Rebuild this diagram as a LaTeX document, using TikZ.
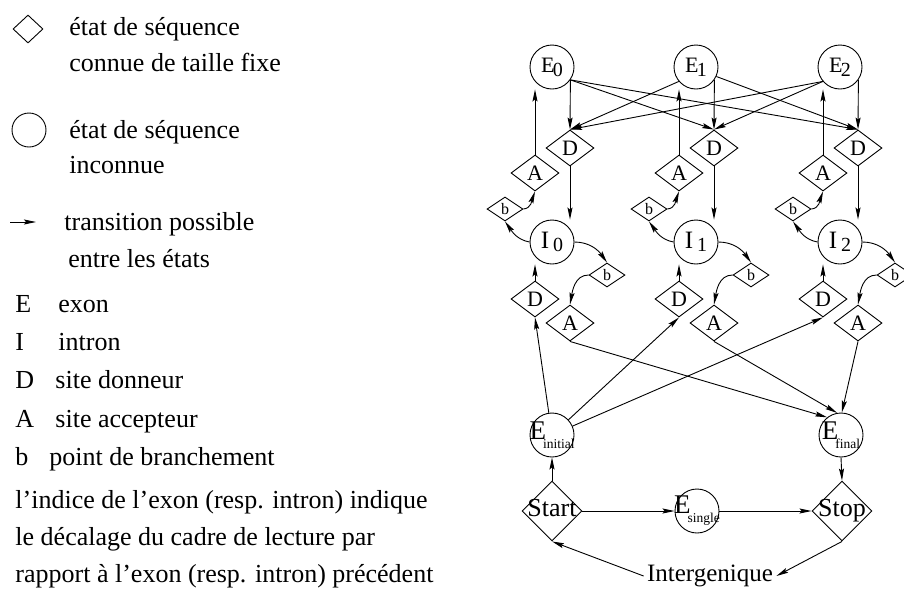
\documentclass[tikz,border=0pt]{standalone}
\usepackage{fontspec}
\setmainfont{Liberation Serif}
\usepackage{tikz}
\usetikzlibrary{arrows.meta, shapes.geometric, calc}
\newcommand{\exon}[1]{E\kern-1.5pt\raisebox{-4pt}{\fontsize{20}{20}\selectfont #1}}
\newcommand{\intron}[1]{{\fontsize{25}{25}\selectfont I}\hspace{4pt}\raisebox{-3pt}{\fontsize{20}{20}\selectfont #1}}
\newcommand{\Esub}[1]{{\fontsize{27}{27}\selectfont E}\kern-3pt\raisebox{-9pt}{\fontsize{13.5}{13.5}\selectfont #1}}

\begin{document}
\begin{tikzpicture}[>={Stealth[length=12pt,width=5pt,inset=2pt]}, x=1pt, y=-1pt, line width=0.9pt]
            \tikzstyle{etat}=[circle, draw, minimum size=44pt, inner sep=0pt, font=\fontsize{22}{22}\selectfont]
            \tikzstyle{site}=[diamond, draw, minimum width=48pt, minimum height=36pt, inner sep=0pt, font=\fontsize{22}{22}\selectfont]
            \tikzstyle{branch}=[diamond, draw, minimum width=36pt, minimum height=24pt, inner sep=0pt, font=\fontsize{16}{16}\selectfont]
            \tikzstyle{bord}=[diamond, draw, minimum size=60pt, inner sep=0pt, font=\fontsize{26}{26}\selectfont]
            \tikzstyle{leg}=[inner sep=0pt, anchor=base west, font=\fontsize{26}{26}\selectfont]

            \useasboundingbox (0,0) rectangle (904,590);

            % Legende : symboles
            \node[diamond, draw, minimum width=30pt, minimum height=28pt, inner sep=0pt] (symD) at (28,29) {};
            \node[circle, draw, minimum size=34pt, inner sep=0pt] (symC) at (29,130) {};
            \coordinate (flA) at (10,222);
            \coordinate (flB) at (36,222);
            \draw[->] (flA) -- (flB);

            % Legende : textes
            \node[leg] (l1) at (69,35) {état de séquence};
            \node[leg] (l2) at (69,71) {connue de taille fixe};
            \node[leg] (l3) at (69,138) {état de séquence};
            \node[leg] (l4) at (69,173) {inconnue};
            \node[leg] (l5) at (64,230) {transition possible};
            \node[leg] (l6) at (68,267) {entre les états};
            \node[leg] (lE) at (15,312) {\makebox[43pt][l]{E}exon};
            \node[leg] (lI) at (15,350) {\makebox[43pt][l]{I}intron};
            \node[leg] (lD) at (15,388) {\makebox[40pt][l]{D}site donneur};
            \node[leg] (lA) at (15,427) {\makebox[40pt][l]{A}site accepteur};
            \node[leg] (lb) at (15,465) {\makebox[34pt][l]{b}point de branchement};
            \node[leg] (p1) at (15,508) {l’indice de l’exon (resp. intron) indique};
            \node[leg] (p2) at (15,545) {le décalage du cadre de lecture par};
            \node[leg] (p3) at (15,582) {rapport à l’exon (resp. intron) précédent};

            \begin{scope}[shift={(552,0)}]
                % Colonne du cadre 0
                \node[etat] (E0) at (0,67) {\exon{0}};
                \node[site] (Dh0) at (18,148) {D};
                \node[site] (Ah0) at (-17,173) {A};
                \node[branch] (bh0) at (-47,209) {b};
                \node[etat] (I0) at (0,242) {\intron{0}};
                \node[branch] (bb0) at (55,275) {b};
                \node[site] (Db0) at (-17,299) {D};
                \node[site] (Ab0) at (18,323) {A};

                % Transitions dans la colonne
                \draw[->] (Ah0.north) -- (Ah0.north |- E0.south);
                \draw[->] (Dh0.south) -- (Dh0.south |- I0.north);
                \draw[->] (Db0.north) -- (Db0.north |- I0.south);
                \draw[->] (I0.west) to[out=170,in=-55] (bh0.south);
                \draw[->] (bh0.east) to[out=5,in=-110] (Ah0.south);
                \draw[->] (I0.east) to[out=0,in=125] (bb0.north);
                \draw[->] (bb0.west) to[out=180,in=80] (Ab0.north);
            \end{scope}

            \begin{scope}[shift={(696,0)}]
                % Colonne du cadre 1
                \node[etat] (E1) at (0,67) {\exon{1}};
                \node[site] (Dh1) at (18,148) {D};
                \node[site] (Ah1) at (-17,173) {A};
                \node[branch] (bh1) at (-47,209) {b};
                \node[etat] (I1) at (0,242) {\intron{1}};
                \node[branch] (bb1) at (55,275) {b};
                \node[site] (Db1) at (-17,299) {D};
                \node[site] (Ab1) at (18,323) {A};

                % Transitions dans la colonne
                \draw[->] (Ah1.north) -- (Ah1.north |- E1.south);
                \draw[->] (Dh1.south) -- (Dh1.south |- I1.north);
                \draw[->] (Db1.north) -- (Db1.north |- I1.south);
                \draw[->] (I1.west) to[out=170,in=-55] (bh1.south);
                \draw[->] (bh1.east) to[out=5,in=-110] (Ah1.south);
                \draw[->] (I1.east) to[out=0,in=125] (bb1.north);
                \draw[->] (bb1.west) to[out=180,in=80] (Ab1.north);
            \end{scope}

            \begin{scope}[shift={(840,0)}]
                % Colonne du cadre 2
                \node[etat] (E2) at (0,67) {\exon{2}};
                \node[site] (Dh2) at (18,148) {D};
                \node[site] (Ah2) at (-17,173) {A};
                \node[branch] (bh2) at (-47,209) {b};
                \node[etat] (I2) at (0,242) {\intron{2}};
                \node[branch] (bb2) at (55,275) {b};
                \node[site] (Db2) at (-17,299) {D};
                \node[site] (Ab2) at (18,323) {A};

                % Transitions dans la colonne
                \draw[->] (Ah2.north) -- (Ah2.north |- E2.south);
                \draw[->] (Dh2.south) -- (Dh2.south |- I2.north);
                \draw[->] (Db2.north) -- (Db2.north |- I2.south);
                \draw[->] (I2.west) to[out=170,in=-55] (bh2.south);
                \draw[->] (bh2.east) to[out=5,in=-110] (Ah2.south);
                \draw[->] (I2.east) to[out=0,in=125] (bb2.north);
                \draw[->] (bb2.west) to[out=180,in=80] (Ab2.north);
            \end{scope}

            % Exons vers sites donneurs
            \draw[->] (E0.-35) -- (Dh0.north);
            \draw[->] (E0.-35) -- (Dh1.north);
            \draw[->] (E0.-35) -- (Dh2.north);
            \draw[->] (E1.-140) -- (Dh0.north);
            \draw[->] (E1.-35) -- (Dh1.north);
            \draw[->] (E1.-25) -- (Dh2.north);
            \draw[->] (E2.-140) -- (Dh0.north);
            \draw[->] (E2.-140) -- (Dh1.north);
            \draw[->] (E2.-35) -- (Dh2.north);

            % Debut et fin de gene
            \node[etat] (Ei) at (552,435) {\makebox[0pt]{\Esub{initial}}};
            \node[etat] (Ef) at (841,435) {\makebox[0pt]{\Esub{final}}};
            \node[bord] (Start) at (552,511) {\makebox[0pt]{Start\vphantom{p}}};
            \node[etat] (Es) at (697,511) {\makebox[0pt]{\Esub{single}}};
            \node[bord] (Stop) at (842,511) {\makebox[0pt]{Stop}};
            \node[inner sep=3pt, font=\fontsize{25}{25}\selectfont] (Inter) at (710,576) {Intergenique};

            \draw[->] (Ei) -- (Db0.south);
            \draw[->] (Ei) -- (Db1.south);
            \draw[->] (Ei) -- (Db2.south);
            \draw[->] (Ab0.south) -- (Ef.128);
            \draw[->] (Ab1.south) -- (Ef.100);
            \draw[->] (Ab2.south) -- (Ef.88);
            \draw[->] (Start.north) -- (Ei.south);
            \draw[->] (Ef.south) -- (Stop.north);
            \draw[->] (Start.east) -- (Es.west);
            \draw[->] (Es.east) -- (Stop.west);
            \draw[->] (Stop.south) -- (Inter.east);
            \draw[->] (Inter.west) -- (Start.south);
        \end{tikzpicture}
\end{document}
